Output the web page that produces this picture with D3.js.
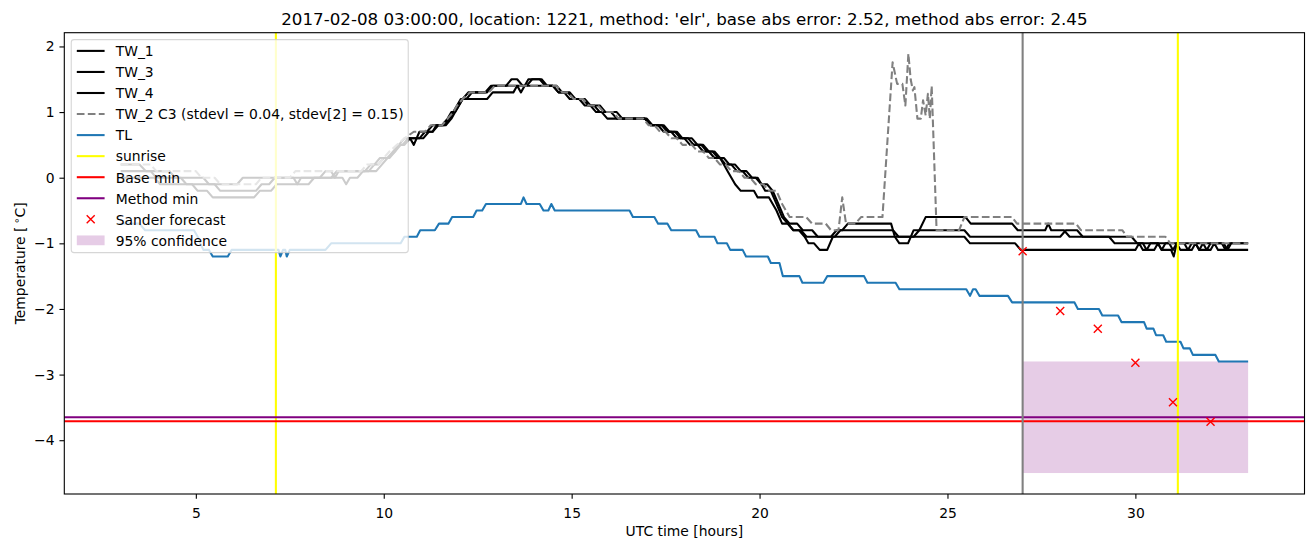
<!DOCTYPE html>
<html><head><meta charset="utf-8">
<script src="https://cdn.jsdelivr.net/npm/d3@7"></script>
<style>body{margin:0;background:#fff}svg text{font-family:"DejaVu Sans",sans-serif}</style>
</head><body><svg id="c" width="1313" height="547"></svg>
<script>
// ---- data (hours UTC, temperature °C) ----
const tw1 = [[3.0,0.2],[3.5,0.2],[3.67,0.1],[4.3,0.1],[4.45,0.0],[5.2,0.0],[5.35,-0.1],[5.5,-0.1],[5.65,-0.2],[6.6,-0.2],[6.75,-0.1],[6.95,-0.1],[7.1,0.0],[8.6,0.0],[8.75,0.1],[9.5,0.1],[9.65,0.2],[9.85,0.2],[10.0,0.3],[10.15,0.3],[10.3,0.4],[10.4,0.5],[10.5,0.5],[10.65,0.6],[10.95,0.6],[11.1,0.7],[11.3,0.7],[11.45,0.8],[11.6,0.8],[11.75,0.9],[11.85,1.0],[11.95,1.1],[12.05,1.2],[12.2,1.2],[12.35,1.3],[12.75,1.3],[12.9,1.4],[13.25,1.4],[13.4,1.5],[13.55,1.5],[13.7,1.4],[13.8,1.4],[13.95,1.5],[14.2,1.5],[14.35,1.4],[14.6,1.4],[14.75,1.3],[14.9,1.3],[15.05,1.2],[15.3,1.2],[15.45,1.1],[15.6,1.1],[15.75,1.0],[16.05,1.0],[16.2,0.9],[16.95,0.9],[17.1,0.8],[17.3,0.8],[17.45,0.7],[17.65,0.7],[17.8,0.6],[18.0,0.6],[18.15,0.5],[18.35,0.5],[18.5,0.4],[18.65,0.4],[18.8,0.3],[18.95,0.3],[19.1,0.2],[19.25,0.2],[19.4,0.1],[19.55,0.1],[19.7,0.0],[19.9,0.0],[20.05,-0.1],[20.2,-0.1],[20.35,-0.2],[20.5,-0.4],[20.65,-0.6],[20.8,-0.7],[21.0,-0.7],[21.15,-0.8],[21.4,-0.8],[21.55,-0.9],[22.0,-0.9],[22.15,-0.8],[23.55,-0.8],[23.7,-0.9],[24.1,-0.9],[24.25,-0.8],[24.42,-0.6],[25.48,-0.6],[25.62,-0.7],[26.72,-0.7],[26.87,-0.8],[27.6,-0.8],[27.68,-0.7],[27.76,-0.8],[28.1,-0.8],[28.25,-0.9],[29.3,-0.9],[29.45,-1.0],[30.2,-1.0],[30.3,-1.1],[30.4,-1.0],[30.6,-1.0],[30.7,-1.1],[30.8,-1.0],[31.3,-1.0],[31.4,-1.1],[31.5,-1.0],[31.8,-1.0],[31.9,-1.1],[32.0,-1.0],[32.35,-1.0],[32.45,-1.1],[32.55,-1.0],[33.0,-1.0]];
const tw3 = [[3.0,0.1],[3.8,0.1],[3.95,0.0],[4.6,0.0],[4.75,-0.1],[6.1,-0.1],[6.25,0.0],[7.6,0.0],[7.7,-0.1],[7.8,0.0],[8.3,0.0],[8.45,0.1],[8.6,0.1],[8.7,0.0],[8.8,0.1],[9.6,0.1],[9.75,0.2],[9.9,0.3],[10.1,0.3],[10.25,0.4],[10.4,0.5],[10.55,0.6],[10.7,0.6],[10.8,0.5],[10.95,0.7],[11.15,0.7],[11.3,0.8],[11.55,0.8],[11.7,0.9],[11.8,1.0],[11.9,1.0],[12.0,1.1],[12.1,1.2],[12.25,1.3],[12.7,1.3],[12.85,1.4],[13.75,1.4],[13.85,1.5],[14.15,1.5],[14.3,1.4],[14.5,1.4],[14.65,1.3],[14.95,1.3],[15.1,1.2],[15.35,1.2],[15.5,1.1],[15.75,1.1],[15.9,1.0],[16.2,1.0],[16.35,0.9],[17.0,0.9],[17.15,0.8],[17.4,0.8],[17.55,0.7],[17.75,0.7],[17.9,0.6],[18.1,0.6],[18.25,0.5],[18.45,0.5],[18.6,0.4],[18.75,0.4],[18.9,0.3],[19.05,0.3],[19.2,0.2],[19.35,0.2],[19.5,0.1],[19.65,0.1],[19.8,0.0],[19.95,0.0],[20.05,-0.1],[20.15,-0.2],[20.3,-0.2],[20.45,-0.4],[20.6,-0.6],[20.75,-0.7],[20.9,-0.8],[21.1,-0.8],[21.25,-0.9],[21.9,-0.9],[22.05,-0.8],[22.2,-0.8],[22.35,-0.7],[23.5,-0.7],[23.6,-0.9],[23.72,-1.0],[23.95,-1.0],[24.1,-0.8],[25.45,-0.8],[25.6,-0.9],[28.0,-0.9],[28.15,-0.8],[28.45,-0.8],[28.6,-0.9],[29.9,-0.9],[30.05,-1.0],[30.9,-1.0],[31.0,-1.1],[31.1,-1.0],[31.6,-1.0],[31.7,-1.1],[31.8,-1.0],[32.3,-1.0],[32.4,-1.1],[32.5,-1.0],[33.0,-1.0]];
const tw4 = [[3.0,0.0],[3.9,0.0],[4.05,-0.1],[4.9,-0.1],[5.05,-0.2],[5.3,-0.2],[5.45,-0.3],[6.55,-0.3],[6.7,-0.2],[7.0,-0.2],[7.15,-0.1],[8.0,-0.1],[8.15,0.0],[8.9,0.0],[9.0,-0.1],[9.1,0.0],[9.3,0.0],[9.45,0.1],[9.8,0.1],[9.95,0.2],[10.1,0.3],[10.3,0.4],[10.45,0.5],[10.55,0.5],[10.7,0.6],[11.05,0.6],[11.2,0.7],[11.3,0.7],[11.4,0.8],[11.65,0.8],[11.8,0.9],[11.9,1.0],[12.0,1.1],[12.1,1.2],[12.75,1.2],[12.9,1.3],[13.45,1.3],[13.55,1.4],[13.65,1.3],[13.75,1.4],[14.5,1.4],[14.65,1.3],[14.8,1.3],[14.95,1.2],[15.2,1.2],[15.35,1.1],[15.5,1.1],[15.65,1.0],[15.8,1.0],[15.95,0.9],[16.95,0.9],[17.1,0.8],[17.45,0.8],[17.6,0.7],[17.8,0.7],[17.95,0.6],[18.2,0.6],[18.35,0.5],[18.5,0.5],[18.65,0.4],[18.8,0.4],[18.95,0.3],[19.05,0.2],[19.15,0.1],[19.25,0.0],[19.35,-0.1],[19.5,-0.2],[19.85,-0.2],[19.95,-0.3],[20.25,-0.3],[20.45,-0.5],[20.6,-0.7],[20.75,-0.7],[20.9,-0.8],[21.05,-0.8],[21.2,-0.9],[21.3,-1.0],[21.45,-1.0],[21.6,-1.1],[21.8,-1.1],[21.95,-0.9],[25.45,-0.9],[25.6,-1.0],[26.8,-1.0],[26.95,-1.1],[30.0,-1.1],[30.1,-1.0],[30.2,-1.1],[30.5,-1.1],[30.6,-1.0],[30.7,-1.1],[30.95,-1.1],[31.02,-1.2],[31.1,-1.0],[31.2,-1.1],[31.5,-1.1],[31.6,-1.0],[31.7,-1.1],[32.0,-1.1],[32.1,-1.0],[32.2,-1.1],[33.0,-1.1]];
const tw2 = [[3.0,0.2],[3.8,0.2],[3.95,0.1],[5.0,0.1],[5.15,0.0],[5.5,0.0],[5.65,-0.1],[6.6,-0.1],[6.75,0.0],[7.5,0.0],[7.65,0.1],[9.4,0.1],[9.55,0.2],[9.85,0.2],[10.0,0.3],[10.15,0.4],[10.35,0.5],[10.55,0.6],[10.8,0.7],[11.1,0.7],[11.25,0.8],[11.55,0.8],[11.7,0.9],[11.85,1.0],[11.95,1.1],[12.1,1.2],[12.3,1.3],[12.8,1.3],[12.95,1.4],[14.6,1.4],[14.75,1.3],[14.9,1.3],[15.05,1.2],[15.3,1.2],[15.45,1.1],[15.7,1.1],[15.85,1.0],[16.1,1.0],[16.25,0.9],[16.9,0.9],[17.05,0.8],[17.2,0.8],[17.35,0.7],[17.5,0.7],[17.65,0.6],[17.8,0.6],[17.95,0.5],[18.2,0.5],[18.35,0.4],[18.5,0.4],[18.65,0.3],[18.8,0.3],[18.95,0.2],[19.1,0.2],[19.25,0.1],[19.45,0.1],[19.6,0.0],[19.75,0.0],[19.9,-0.1],[20.1,-0.1],[20.25,-0.2],[20.45,-0.2],[20.6,-0.4],[20.8,-0.6],[21.24,-0.6],[21.4,-0.7],[21.76,-0.7],[21.9,-0.8],[22.1,-0.8],[22.2,-0.3],[22.3,-0.7],[22.55,-0.7],[22.7,-0.6],[23.27,-0.6],[23.54,1.76],[23.66,1.43],[23.8,1.43],[23.88,1.1],[23.96,1.89],[24.02,1.5],[24.08,1.33],[24.12,1.38],[24.2,0.9],[24.29,0.9],[24.35,1.18],[24.42,0.95],[24.48,1.28],[24.53,0.9],[24.58,1.4],[24.71,-0.8],[25.31,-0.8],[25.45,-0.6],[26.72,-0.6],[26.85,-0.7],[28.42,-0.7],[28.55,-0.8],[29.65,-0.8],[29.78,-0.9],[30.8,-0.9],[30.93,-1.0],[33.0,-1.0]];
const tl = [[3.0,-0.7],[3.5,-0.7],[3.65,-0.8],[4.95,-0.8],[5.05,-0.9],[5.12,-1.0],[5.2,-1.1],[5.35,-1.1],[5.45,-1.2],[5.85,-1.2],[5.95,-1.1],[7.2,-1.1],[7.25,-1.2],[7.32,-1.1],[7.38,-1.1],[7.42,-1.2],[7.5,-1.1],[8.45,-1.1],[8.6,-1.0],[10.45,-1.0],[10.55,-0.9],[10.88,-0.9],[10.97,-0.8],[11.36,-0.8],[11.47,-0.7],[11.72,-0.7],[11.82,-0.6],[12.38,-0.6],[12.47,-0.5],[12.62,-0.5],[12.72,-0.4],[13.65,-0.4],[13.72,-0.3],[13.8,-0.4],[14.15,-0.4],[14.25,-0.5],[14.38,-0.5],[14.46,-0.4],[14.55,-0.5],[16.54,-0.5],[16.63,-0.6],[17.2,-0.6],[17.3,-0.7],[17.55,-0.7],[17.65,-0.8],[18.31,-0.8],[18.4,-0.9],[18.8,-0.9],[18.88,-1.0],[19.13,-1.0],[19.22,-1.1],[19.55,-1.1],[19.64,-1.2],[20.22,-1.2],[20.3,-1.3],[20.53,-1.3],[20.62,-1.5],[21.06,-1.5],[21.14,-1.6],[21.7,-1.6],[21.8,-1.5],[22.78,-1.5],[22.87,-1.6],[23.62,-1.6],[23.72,-1.7],[25.5,-1.7],[25.6,-1.8],[25.68,-1.7],[25.75,-1.7],[25.85,-1.8],[26.61,-1.8],[26.72,-1.9],[28.38,-1.9],[28.47,-2.0],[29.03,-2.0],[29.12,-2.1],[29.54,-2.1],[29.63,-2.2],[30.23,-2.2],[30.3,-2.3],[30.48,-2.3],[30.55,-2.4],[30.74,-2.4],[30.82,-2.5],[31.2,-2.5],[31.28,-2.6],[31.45,-2.6],[31.53,-2.7],[32.13,-2.7],[32.22,-2.8],[33.0,-2.8]];
const sunriseTimes = [7.13, 31.13];
const forecastTimes = [27, 28, 29, 30, 31, 32];
const forecastValues = [-1.12, -2.03, -2.30, -2.82, -3.42, -3.72];
const baseMin = -3.71;
const methodMin = -3.65;
const issueTime = 27;
const confidenceTimes = [27, 33];
const confidenceBounds = [-4.5, -2.8];
const xTicks = [5, 10, 15, 20, 25, 30];
const yTicks = [-4, -3, -2, -1, 0, 1, 2];
const legendLabels = ["TW_1","TW_3","TW_4","TW_2 C3 (stdevl = 0.04, stdev[2] = 0.15)","TL","sunrise","Base min","Method min","Sander forecast","95% confidence"];
const titleText = "2017-02-08 03:00:00, location: 1221, method: 'elr', base abs error: 2.52, method abs error: 2.45";

// ---- layout ----
const L = 64.3, R = 1304.5, T = 32.7, B = 494;
const FS = 13.9, LW = 2.08;
const svg = d3.select('#c');

const allX = [tw1, tw2, tw3, tw4, tl].flat().map(d => d[0]).concat(confidenceTimes);
const allY = [tw1, tw2, tw3, tw4, tl].flat().map(d => d[1]).concat(confidenceBounds, forecastValues);
const [x0, x1] = d3.extent(allX), [y0, y1] = d3.extent(allY);
const x = d3.scaleLinear().domain([x0 - 0.05 * (x1 - x0), x1 + 0.05 * (x1 - x0)]).range([L, R]);
const y = d3.scaleLinear().domain([y0 - 0.05 * (y1 - y0), y1 + 0.05 * (y1 - y0)]).range([B, T]);

const plot = svg.append('g');
// confidence band
plot.append('rect')
  .attr('x', x(confidenceTimes[0])).attr('width', x(confidenceTimes[1]) - x(confidenceTimes[0]))
  .attr('y', y(confidenceBounds[1])).attr('height', y(confidenceBounds[0]) - y(confidenceBounds[1]))
  .attr('fill', 'purple').attr('fill-opacity', 0.2);

const line = d3.line().x(d => x(d[0])).y(d => y(d[1]));
[tw1, tw3, tw4].forEach(s => plot.append('path').attr('d', line(s)).attr('fill', 'none')
  .attr('stroke', '#000').attr('stroke-width', LW).attr('stroke-linejoin', 'round'));
plot.append('path').attr('d', line(tw2)).attr('fill', 'none').attr('stroke', '#808080')
  .attr('stroke-width', LW).attr('stroke-dasharray', '7.7,3.3').attr('stroke-linejoin', 'round');
plot.append('path').attr('d', line(tl)).attr('fill', 'none').attr('stroke', '#1f77b4')
  .attr('stroke-width', LW).attr('stroke-linejoin', 'round');

sunriseTimes.forEach(t => plot.append('line').attr('x1', x(t)).attr('x2', x(t)).attr('y1', T).attr('y2', B)
  .attr('stroke', '#ffff00').attr('stroke-width', LW));
plot.append('line').attr('x1', L).attr('x2', R).attr('y1', y(baseMin)).attr('y2', y(baseMin))
  .attr('stroke', '#ff0000').attr('stroke-width', LW);
plot.append('line').attr('x1', L).attr('x2', R).attr('y1', y(methodMin)).attr('y2', y(methodMin))
  .attr('stroke', '#800080').attr('stroke-width', LW);
plot.append('line').attr('x1', x(issueTime)).attr('x2', x(issueTime)).attr('y1', T).attr('y2', B)
  .attr('stroke', '#808080').attr('stroke-width', LW);

const xMark = 'M-4,-4L4,4M-4,4L4,-4';
forecastTimes.forEach((t, i) => plot.append('path').attr('d', xMark)
  .attr('transform', `translate(${x(t)},${y(forecastValues[i])})`)
  .attr('stroke', '#ff0000').attr('stroke-width', 1.4).attr('fill', 'none'));

// ---- axes ----
const ax = svg.append('g').attr('transform', `translate(0,${B})`)
  .call(d3.axisBottom(x).tickValues(xTicks).tickSize(4.86).tickPadding(9.3).tickSizeOuter(0).tickFormat(d3.format('d')));
const ay = svg.append('g').attr('transform', `translate(${L},0)`)
  .call(d3.axisLeft(y).tickValues(yTicks).tickSize(4.86).tickPadding(4.86).tickSizeOuter(0).tickFormat(d3.format('d')));
[ax, ay].forEach(a => {
  a.select('.domain').remove();
  a.attr('font-size', FS).attr('font-family', '"DejaVu Sans",sans-serif');
  a.selectAll('line').attr('stroke', '#000').attr('stroke-width', 1.1);
  a.selectAll('text').attr('fill', '#000');
});
svg.append('rect').attr('x', L).attr('y', T).attr('width', R - L).attr('height', B - T)
  .attr('fill', 'none').attr('stroke', '#000').attr('stroke-width', 1.1);

svg.append('text').attr('x', (L + R) / 2).attr('y', 536).attr('text-anchor', 'middle')
  .attr('font-size', FS).text('UTC time [hours]');
const yl = svg.append('text').attr('transform', `translate(24.5,${(T + B) / 2}) rotate(-90)`)
  .attr('text-anchor', 'middle').attr('font-size', FS);
yl.append('tspan').text('Temperature [\u2009');
yl.append('tspan').attr('font-size', 10).attr('dy', -5).text('\u2218');
yl.append('tspan').attr('dy', 5).text('C]');
svg.append('text').attr('x', (L + R) / 2).attr('y', 24.5).attr('text-anchor', 'middle')
  .attr('font-size', 16.7).text(titleText);

// ---- legend ----
const lg = svg.append('g');
lg.append('rect').attr('x', 71.25).attr('y', 39.65).attr('width', 337).attr('height', 213).attr('rx', 2.8)
  .attr('fill', '#fff').attr('fill-opacity', 0.8).attr('stroke', '#cccccc').attr('stroke-opacity', 0.8).attr('stroke-width', 1.1);
const hx0 = 76.8, hx1 = 104.6, tx = 115.7, row0 = 50.9, rowH = 21.05;
const styles = [
  {c: '#000'}, {c: '#000'}, {c: '#000'}, {c: '#808080', dash: '7.7,3.3'}, {c: '#1f77b4'},
  {c: '#ffff00'}, {c: '#ff0000'}, {c: '#800080'}, {marker: true}, {patch: true}
];
legendLabels.forEach((lab, i) => {
  const cy = row0 + i * rowH, st = styles[i];
  if (st.patch) {
    lg.append('rect').attr('x', hx0).attr('y', cy - 4.9).attr('width', hx1 - hx0).attr('height', 9.8)
      .attr('fill', 'purple').attr('fill-opacity', 0.2);
  } else if (st.marker) {
    lg.append('path').attr('d', xMark).attr('transform', `translate(${(hx0 + hx1) / 2},${cy})`)
      .attr('stroke', '#ff0000').attr('stroke-width', 1.4).attr('fill', 'none');
  } else {
    lg.append('line').attr('x1', hx0).attr('x2', hx1).attr('y1', cy).attr('y2', cy)
      .attr('stroke', st.c).attr('stroke-width', LW).attr('stroke-dasharray', st.dash || null);
  }
  lg.append('text').attr('x', tx).attr('y', cy + 5.3).attr('font-size', FS).text(lab);
});
</script></body></html>
